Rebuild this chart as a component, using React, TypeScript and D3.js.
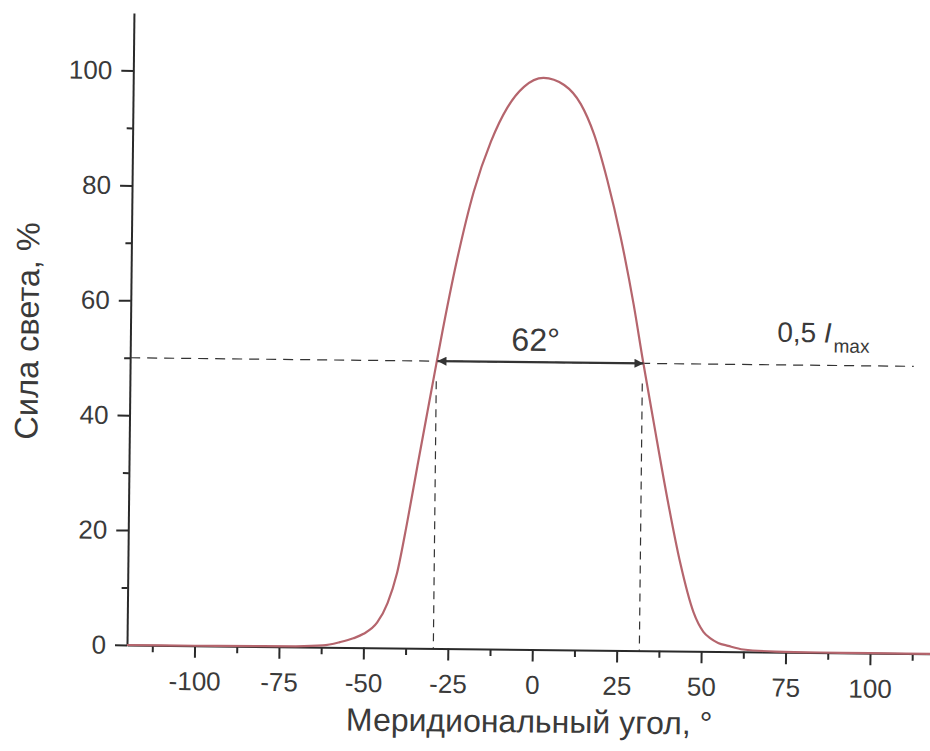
import React, { useEffect, useRef } from 'react';
import * as d3 from 'd3';

// meridional angle, degrees
const angles = [
  -120, -100, -80, -70, -62, -57, -53, -50, -46, -43, -40.3, -37.5, -34.6, -31.8,
  -29.4, -28.2, -23.5, -18.8, -13.9, -9.1, -4.3, 1.5, 7.6, 12.6, 16.6, 20.7, 24.8,
  28.9, 31.9, 35.2, 39.4, 43.5, 47.6, 50.6, 52.6, 55, 58, 62.5, 72, 85, 100, 120,
];
// luminous intensity, %
const intensity = [
  0, 0, 0.05, 0.1, 0.3, 0.9, 1.6, 2.4, 4.4, 7.8, 13.0, 21.7, 31.7, 41.2,
  49.3, 53.3, 67.8, 79.6, 88.3, 94.3, 97.9, 99.5, 98.3, 95.0, 89.8, 81.8, 72.0,
  60.2, 50.2, 39.8, 26.8, 15.4, 6.8, 3.4, 2.3, 1.5, 1.0, 0.4, 0.1, 0.02, 0, 0,
];

const xMajorTicks = [-100, -75, -50, -25, 0, 25, 50, 75, 100];
const xMinorTicks = [-112.5, -87.5, -62.5, -37.5, -12.5, 12.5, 37.5, 62.5, 87.5, 112.5];
const yMajorTicks = [0, 20, 40, 60, 80, 100];
const yMinorTicks = [10, 30, 50, 70, 90];

const halfLevel = 50;
const halfBounds = [-29.3, 31.7];
const widthLabel = '62°';
const levelLabel = ['0,5 ', 'I', 'max'];

const xTitle = 'Меридиональный угол, °';
const yTitle = 'Сила света, %';

const W = 930;
const H = 751;
const FONT = '"Liberation Sans", Arial, sans-serif';
const INK = '#3a3a3a';
const CURVE = '#b5656d';

export default function App() {
  const svgRef = useRef<SVGSVGElement>(null);

  useEffect(() => {
    if (!svgRef.current) return;
    const svg = d3.select(svgRef.current);
    svg.selectAll('*').remove();

    const x = d3.scaleLinear().domain([-120, 120]).range([127, 937.6]);
    const y = d3.scaleLinear().domain([0, 110]).range([645, 13]);

    // the scanned figure is tilted a little
    const g = svg.append('g').attr('transform', 'rotate(0.63, 127, 645)');

    const defs = svg.append('defs');
    defs.append('marker')
      .attr('id', 'arrowHead')
      .attr('viewBox', '0 0 10 10')
      .attr('refX', 10)
      .attr('refY', 5)
      .attr('markerWidth', 16)
      .attr('markerHeight', 9)
      .attr('markerUnits', 'userSpaceOnUse')
      .attr('orient', 'auto-start-reverse')
      .append('path')
      .attr('d', 'M0,0 L10,5 L0,10 z')
      .attr('fill', '#333');

    const styleAxis = (sel: d3.Selection<SVGGElement, unknown, null, undefined>) => {
      sel.selectAll('.domain').attr('stroke', '#2a2a2a').attr('stroke-width', 2);
      sel.selectAll('.tick line').attr('stroke', '#2a2a2a').attr('stroke-width', 2);
      sel.selectAll('.tick text')
        .attr('fill', INK)
        .style('font-family', FONT)
        .style('font-size', '26px');
    };

    // x axis
    const xMinor = g.append('g')
      .attr('transform', `translate(0,${y(0)})`)
      .call(d3.axisBottom(x).tickValues(xMinorTicks).tickSize(7).tickFormat(() => ''));
    xMinor.select('.domain').remove();
    styleAxis(xMinor);

    const xAxis = g.append('g')
      .attr('transform', `translate(0,${y(0)})`)
      .call(d3.axisBottom(x).tickValues(xMajorTicks).tickSize(12).tickSizeOuter(0).tickPadding(14)
        .tickFormat(d => String(d)));
    styleAxis(xAxis);

    // y axis
    const yMinor = g.append('g')
      .attr('transform', `translate(${x(-120)},0)`)
      .call(d3.axisLeft(y).tickValues(yMinorTicks).tickSize(6).tickFormat(() => ''));
    yMinor.select('.domain').remove();
    styleAxis(yMinor);

    const yAxis = g.append('g')
      .attr('transform', `translate(${x(-120)},0)`)
      .call(d3.axisLeft(y).tickValues(yMajorTicks).tickSize(12).tickSizeOuter(0).tickPadding(9)
        .tickFormat(d => String(d)));
    styleAxis(yAxis);

    // axis titles
    g.append('text')
      .attr('x', 530)
      .attr('y', 728)
      .attr('text-anchor', 'middle')
      .attr('fill', INK)
      .style('font-family', FONT)
      .style('font-size', '32px')
      .text(xTitle);

    g.append('text')
      .attr('transform', 'translate(35,332) rotate(-90)')
      .attr('text-anchor', 'middle')
      .attr('fill', INK)
      .style('font-family', FONT)
      .style('font-size', '32.5px')
      .text(yTitle);

    // half-max guides
    g.append('line')
      .attr('x1', x(-120)).attr('x2', x(112))
      .attr('y1', y(halfLevel)).attr('y2', y(halfLevel))
      .attr('stroke', '#333')
      .attr('stroke-width', 1.2)
      .attr('stroke-dasharray', '10,7');

    halfBounds.forEach(b => {
      g.append('line')
        .attr('x1', x(b)).attr('x2', x(b))
        .attr('y1', y(halfLevel - 3.5)).attr('y2', y(0))
        .attr('stroke', '#333')
        .attr('stroke-width', 1.2)
        .attr('stroke-dasharray', '8,6');
    });

    // curve
    const pts = angles.map((a, i) => [a, intensity[i]] as [number, number]);
    const line = d3.line<[number, number]>()
      .x(d => x(d[0]))
      .y(d => y(d[1]))
      .curve(d3.curveMonotoneX);

    g.append('path')
      .datum(pts)
      .attr('fill', 'none')
      .attr('stroke', CURVE)
      .attr('stroke-width', 2.2)
      .attr('d', line);

    // width arrow
    g.append('line')
      .attr('x1', x(halfBounds[0]) + 1).attr('x2', x(halfBounds[1]) + 1)
      .attr('y1', y(halfLevel)).attr('y2', y(halfLevel))
      .attr('stroke', '#333')
      .attr('stroke-width', 2.2)
      .attr('marker-start', 'url(#arrowHead)')
      .attr('marker-end', 'url(#arrowHead)');

    g.append('text')
      .attr('x', x(0))
      .attr('y', y(52))
      .attr('text-anchor', 'middle')
      .attr('fill', INK)
      .style('font-family', FONT)
      .style('font-size', '32px')
      .text(widthLabel);

    const lvl = g.append('text')
      .attr('x', x(71.5))
      .attr('y', y(54))
      .attr('fill', INK)
      .style('font-family', FONT)
      .style('font-size', '28px');
    lvl.append('tspan').text(levelLabel[0]);
    lvl.append('tspan').style('font-style', 'italic').text(levelLabel[1]);
    lvl.append('tspan').attr('dy', 10).attr('dx', 2).style('font-size', '19px').text(levelLabel[2]);
  }, []);

  return (
    <svg
      ref={svgRef}
      width={W}
      height={H}
      style={{ position: 'absolute', left: 0, top: 0, background: '#fff' }}
    />
  );
}
